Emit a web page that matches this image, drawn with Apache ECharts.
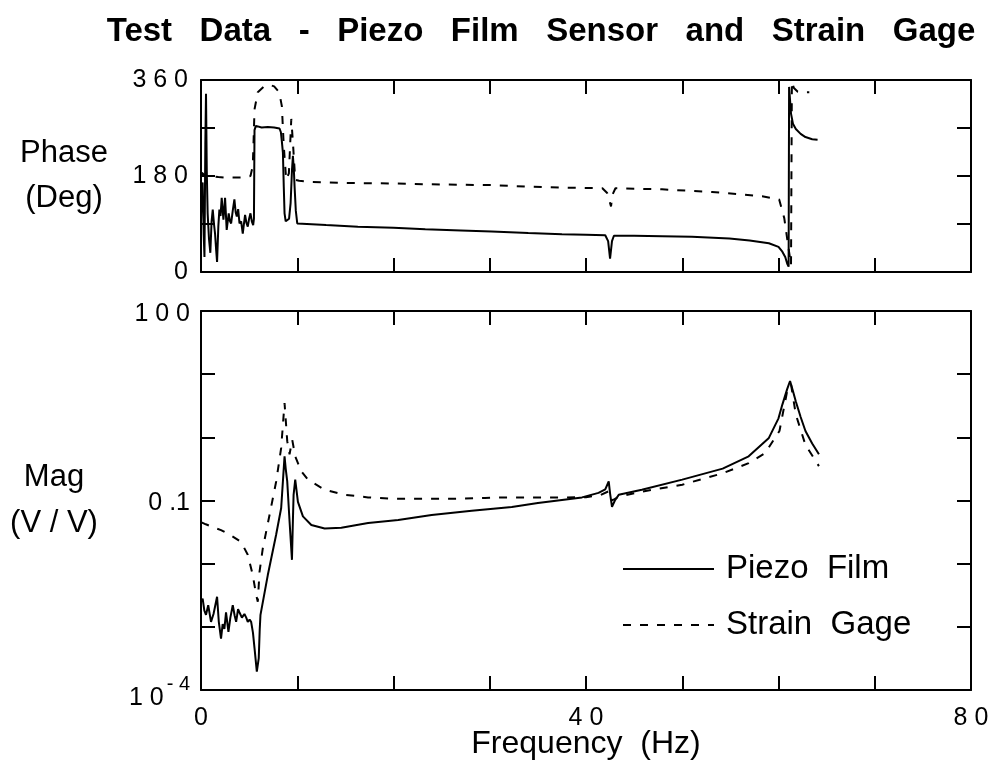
<!DOCTYPE html>
<html>
<head>
<meta charset="utf-8">
<script src="https://cdn.jsdelivr.net/npm/echarts@6/dist/echarts.min.js"></script>
<style>
html,body{margin:0;padding:0;background:#fff;}
#chart{width:993px;height:774px;}
</style>
</head>
<body>
<div id="chart"></div>
<script>
// ---- data ----
const titleText = 'Test   Data   -   Piezo   Film   Sensor   and   Strain   Gage';
const seriesNames = ['Piezo Film', 'Strain Gage'];
const freqLabels = [0, 40, 80];            // labelled frequency ticks (Hz)
const phaseLabels = [0, 180, 360];         // labelled phase ticks (deg)
const magLabels = [100, 0.1, 0.0001];      // labelled magnitude ticks (V/V)

// Phase (deg) vs frequency (Hz)
const piezoPhase = [
  [0.00,95],[0.08,160],[0.17,168],[0.28,70],[0.36,28],[0.45,240],[0.52,334],[0.60,190],[0.69,110],
  [0.83,62],[0.97,36],[1.10,95],[1.22,117],[1.35,90],[1.46,72],[1.58,40],[1.67,19],[1.80,85],
  [1.91,117],[2.03,105],[2.15,139],[2.33,98],[2.50,139],[2.67,79],[2.88,110],[3.00,96],[3.13,91],
  [3.30,115],[3.47,136],[3.60,112],[3.72,104],[3.86,118],[4.00,91],[4.17,95],[4.34,72],[4.46,90],
  [4.58,107],[4.72,92],[4.86,85],[5.00,100],[5.14,110],[5.28,95],[5.42,88],[5.50,100],[5.56,266],
  [5.70,274],[5.90,276],[6.30,271],[6.94,272],[7.60,271],[8.16,269],[8.30,262],[8.40,245],[8.51,224],
  [8.60,160],[8.68,110],[8.80,95],[8.96,92],[9.15,100],[9.31,129],[9.45,190],[9.55,218],[9.65,190],
  [9.72,161],[9.85,115],[10.0,91],[13.0,88],[16.3,85],[20.0,83],[23.3,80],[27.0,78],[30.2,76],
  [34.0,73],[37.5,71],[40.0,70],[42.0,69],[42.3,58],[42.5,25],[42.7,58],[42.9,68],[45.0,68],
  [47.9,67],[51.0,66],[54.9,63],[57.0,59],[59.0,54],[60.0,47],[60.4,38],[60.7,28],[60.9,16],
  [61.05,10],[61.1,347],[61.3,297],[61.5,278],[61.8,268],[62.3,259],[62.8,253],[63.5,249],[64.06,248]
];
const gagePhase = [
  [0.00,150],[0.10,186],[0.17,188],[0.40,181],[1.0,180],[1.8,178],[2.43,177],[3.3,177],[4.17,177],
  [5.14,180],[5.38,199],[5.47,250],[5.56,305],[5.90,337],[6.50,347],[7.12,351],[7.60,348],[7.99,340],
  [8.20,330],[8.40,311],[8.60,236],[8.85,173],[9.13,185],[9.38,287],[9.55,243],[9.79,173],[10.2,171],
  [11.46,169],[15.0,167],[19.8,166],[25.0,164],[30.2,163],[34.0,160],[38.2,158],[41.7,157],[42.2,148],
  [42.6,123],[42.75,145],[43.06,157],[47.9,155],[53.1,150],[58.3,142],[60.07,136],[60.6,101],[61.0,50],
  [61.3,13],[61.39,357],[61.6,345],[62.0,338],[62.6,337],[63.2,337]
];

// Magnitude (V/V) vs frequency (Hz)
const piezoMag = [
  [0.05,0.0025],[0.17,0.0028],[0.35,0.0018],[0.52,0.00155],[0.75,0.0022],[1.04,0.0012],[1.30,0.0016],
  [1.67,0.003],[1.85,0.0012],[2.08,0.00065],[2.25,0.0011],[2.43,0.00093],[2.6,0.0017],[2.85,0.00083],
  [3.05,0.0014],[3.3,0.0022],[3.5,0.0015],[3.65,0.0012],[3.85,0.0019],[3.99,0.0017],[4.25,0.0014],
  [4.51,0.0016],[4.7,0.0014],[4.86,0.0012],[5.05,0.0013],[5.21,0.0012],[5.4,0.0008],[5.56,0.00046],
  [5.8,0.000195],[5.9,0.00019],[6.0,0.00032],[6.1,0.0009],[6.18,0.00155],[6.94,0.0066],[7.81,0.029],
  [8.33,0.076],[8.55,0.25],[8.68,0.5],[8.8,0.32],[8.96,0.2],[9.2,0.047],[9.45,0.0115],[9.55,0.05],
  [9.62,0.123],[9.79,0.214],[10.07,0.095],[10.59,0.056],[11.46,0.041],[12.85,0.036],[14.58,0.037],
  [17.36,0.044],[20.49,0.049],[23.96,0.059],[28.13,0.069],[32.29,0.079],[35,0.091],[37.5,0.102],
  [39.58,0.112],[41.3,0.132],[42.0,0.15],[42.36,0.2],[42.5,0.13],[42.7,0.079],[43.0,0.1],[43.4,0.123],
  [45.8,0.148],[50,0.214],[54.2,0.32],[56.9,0.5],[59.0,0.98],[60.0,2.0],[60.4,3.3],[60.9,5.8],
  [61.2,7.8],[61.5,5.4],[61.8,3.7],[62.3,2.1],[62.8,1.26],[63.5,0.8],[64.2,0.54]
];
const gageMag = [
  [0.05,0.045],[0.5,0.042],[1.2,0.038],[2.08,0.034],[3.12,0.028],[4.17,0.022],[4.86,0.0138],
  [5.38,0.0066],[5.73,0.0032],[5.9,0.0025],[6.08,0.0074],[6.42,0.0174],[7.12,0.059],[7.81,0.2],
  [8.33,0.68],[8.68,3.5],[8.96,0.87],[9.2,0.54],[9.48,0.91],[9.79,0.5],[10.42,0.29],[11.11,0.214],
  [12.85,0.148],[14.93,0.123],[17.36,0.112],[19.8,0.107],[23.3,0.107],[26.7,0.107],[29.5,0.11],
  [31.4,0.112],[35,0.112],[38,0.112],[40,0.113],[41.5,0.122],[42.36,0.14],[42.7,0.1],[43.4,0.115],
  [45.8,0.138],[50,0.178],[54.2,0.27],[56.9,0.39],[58.6,0.56],[60.1,1.26],[60.9,5.4],[61.3,6.9],
  [61.8,2.3],[62.8,0.76],[64.2,0.35]
];

// ---- chart ----
const FONT = 'Liberation Sans';
const spaced = v => String(v).split('').join(' ');
const lineAxis = {color:'#000', width:2};
const tickStyle = {show:true, inside:true, length:14, lineStyle:{color:'#000', width:2}};

function xAx(gridIndex, position, labels, extra) {
  return Object.assign({
    type:'value', gridIndex, position, min:0, max:80, interval:10,
    axisLine:{show:true, onZero:false, lineStyle:lineAxis},
    axisTick:tickStyle, splitLine:{show:false},
    axisLabel: labels ? {
      show:true, margin:16, color:'#000', fontFamily:FONT, fontSize:25,
      formatter: v => freqLabels.includes(v) ? spaced(v) : ''
    } : {show:false}
  }, extra || {});
}

const chart = echarts.init(document.getElementById('chart'), null, {renderer:'canvas'});
chart.setOption({
  animation:false,
  backgroundColor:'#fff',
  title:{
    text:titleText, left:541, top:15, padding:0, textAlign:'center',
    textStyle:{fontFamily:FONT, fontWeight:'bold', fontSize:33, color:'#000'}
  },
  legend:{
    data:seriesNames, orient:'vertical', left:622, top:552, padding:0,
    itemWidth:91, itemHeight:2, itemGap:22,
    itemStyle:{opacity:0},
    formatter: n => n.replace(' ', '  '),
    textStyle:{fontFamily:FONT, fontSize:33, color:'#000', lineHeight:34, padding:[0,0,0,7]}
  },
  grid:[
    {left:201, top:80, width:770, height:192},
    {left:201, top:311, width:770, height:379}
  ],
  xAxis:[
    xAx(0,'bottom',false),
    xAx(0,'top',false),
    xAx(1,'bottom',true,{
      name:'Frequency  (Hz)', nameLocation:'middle', nameGap:38, nameMoveOverlap:false,
      nameTextStyle:{fontFamily:FONT, fontSize:32, color:'#000'}
    }),
    xAx(1,'top',false)
  ],
  yAxis:[
    {
      type:'value', gridIndex:0, position:'left', min:0, max:360, interval:90,
      axisLine:{show:true, onZero:false, lineStyle:lineAxis}, axisTick:tickStyle, splitLine:{show:false},
      axisLabel:{show:true, margin:13, color:'#000', fontFamily:FONT, fontSize:25, padding:[0,0,8,0],
        formatter: v => phaseLabels.includes(v) ? spaced(v) : ''},
      name:'Phase\n(Deg)', nameLocation:'middle', nameRotate:0, nameGap:137,
      nameTextStyle:{fontFamily:FONT, fontSize:31, color:'#000', lineHeight:45, align:'center',
        verticalAlign:'middle', padding:[0,0,14,0]}
    },
    {
      type:'value', gridIndex:0, position:'right', min:0, max:360, interval:90,
      axisLine:{show:true, onZero:false, lineStyle:lineAxis}, axisTick:tickStyle, splitLine:{show:false},
      axisLabel:{show:false}
    },
    {
      type:'log', logBase:10, gridIndex:1, position:'left', min:0.0001, max:100, splitNumber:6,
      axisLine:{show:true, onZero:false, lineStyle:lineAxis}, axisTick:tickStyle, splitLine:{show:false},
      axisLabel:{show:true, margin:11, color:'#000', fontFamily:FONT, fontSize:25, padding:[6,0,0,0],
        formatter: v => {
          const e = Math.round(Math.log10(v));
          const hit = magLabels.some(m => Math.round(Math.log10(m)) === e);
          if (!hit) return '';
          if (e === -4) return '{b|1 0}{s|- 4}';
          if (e === -1) return '0 .1';
          return spaced(Math.pow(10, e));
        },
        rich:{
          b:{fontFamily:FONT, fontSize:25, color:'#000', lineHeight:46, padding:[10,0,0,0]},
          s:{fontFamily:FONT, fontSize:20, color:'#000', lineHeight:20, verticalAlign:'top', padding:[4,0,0,3]}
        }
      },
      name:'Mag\n(V / V)', nameLocation:'middle', nameRotate:0, nameGap:147,
      nameTextStyle:{fontFamily:FONT, fontSize:31, color:'#000', lineHeight:46, align:'center',
        verticalAlign:'middle', padding:[21,0,0,0]}
    },
    {
      type:'log', logBase:10, gridIndex:1, position:'right', min:0.0001, max:100, splitNumber:6,
      axisLine:{show:true, onZero:false, lineStyle:lineAxis}, axisTick:tickStyle, splitLine:{show:false},
      axisLabel:{show:false}
    }
  ],
  series:[
    {name:seriesNames[0], type:'line', xAxisIndex:0, yAxisIndex:0, data:piezoPhase,
     symbol:'none', showSymbol:false, lineStyle:{color:'#000', width:2, type:'solid'}, itemStyle:{color:'#000'}},
    {name:seriesNames[1], type:'line', xAxisIndex:0, yAxisIndex:0, data:gagePhase,
     symbol:'none', showSymbol:false, lineStyle:{color:'#000', width:2, type:[8,9]}, itemStyle:{color:'#000'}},
    {name:seriesNames[0], type:'line', xAxisIndex:2, yAxisIndex:2, data:piezoMag,
     symbol:'none', showSymbol:false, lineStyle:{color:'#000', width:2, type:'solid'}, itemStyle:{color:'#000'}},
    {name:seriesNames[1], type:'line', xAxisIndex:2, yAxisIndex:2, data:gageMag,
     symbol:'none', showSymbol:false, lineStyle:{color:'#000', width:2, type:[8,9]}, itemStyle:{color:'#000'}}
  ]
});
</script>
</body>
</html>
